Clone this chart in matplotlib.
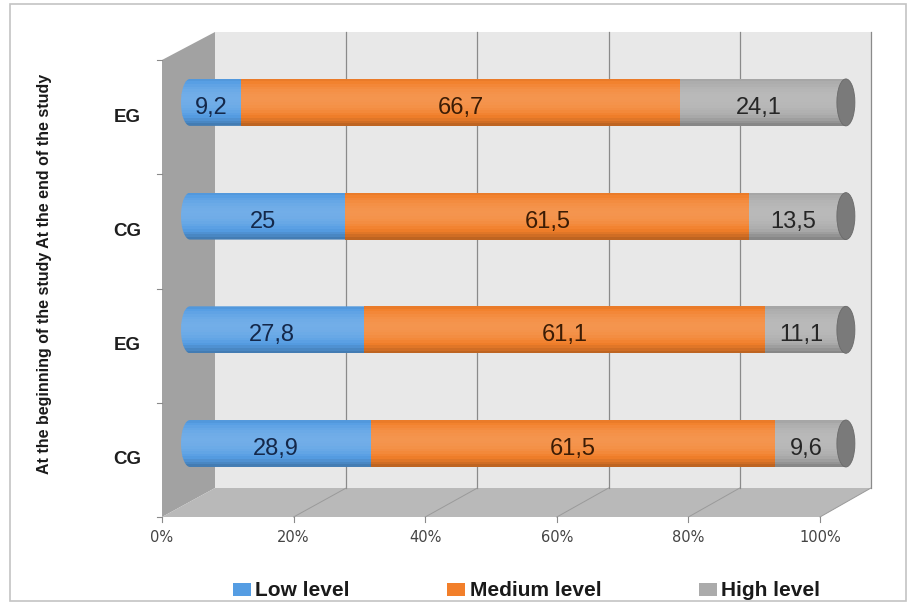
import matplotlib.pyplot as plt
import numpy as np
from matplotlib.patches import Polygon, Rectangle, Ellipse, Patch, PathPatch
from matplotlib.path import Path
from matplotlib.colors import to_rgb
from matplotlib import font_manager

# data (rows top to bottom)
groups = ['EG', 'CG', 'EG', 'CG']
low = [9.2, 25, 27.8, 28.9]
medium = [66.7, 61.5, 61.1, 61.5]
high = [24.1, 13.5, 11.1, 9.6]
series_names = ['Low level', 'Medium level', 'High level']
ticks = [0, 20, 40, 60, 80, 100]
tick_labels = ['0%', '20%', '40%', '60%', '80%', '100%']
ylabel = 'At the beginning of the study At the end of the study'

colors = ['#559de3', '#f27f2a', '#ababab']
text_cols = ['#14284a', '#3b1c05', '#262626']
cap_col = '#7a7a7a'

W, H = 915, 605
fig = plt.figure(figsize=(W / 100, H / 100), dpi=100)

# ---- fake 3d box, drawn in pixel coords ----
bg = fig.add_axes([0, 0, 1, 1])
bg.set_xlim(0, W)
bg.set_ylim(H, 0)
bg.axis('off')

back_l, back_r, back_top, back_bot = 215, 871, 32, 488
front_l, front_r, front_top, front_bot = 162, 820, 60, 517

bg.add_patch(Rectangle((10, 4), 896, 597, fill=False, ec='#c4c4c4', lw=1.2))
bg.add_patch(Rectangle((back_l, back_top), back_r - back_l, back_bot - back_top,
                       fc='#e8e8e8', ec='none'))
bg.add_patch(Polygon([(front_l, front_top), (back_l, back_top), (back_l, back_bot),
                      (front_l, front_bot)], fc='#a2a2a2', ec='none'))
bg.add_patch(Polygon([(back_l, back_bot), (back_r, back_bot), (front_r, front_bot),
                      (front_l, front_bot)], fc='#b9b9b9', ec='none'))

for v, lab in zip(ticks, tick_labels):
    xb = back_l + (back_r - back_l) * v / 100
    xf = front_l + (front_r - front_l) * v / 100
    if v > 0:
        bg.plot([xb, xb], [back_top, back_bot], color='#8a8a8a', lw=0.9)
        bg.plot([xb, xf], [back_bot, front_bot], color='#9a9a9a', lw=0.7)
    bg.plot([xf, xf], [front_bot, front_bot + 5], color='#8a8a8a', lw=0.8)
    bg.text(xf, 537, lab, ha='center', va='center', fontsize=10.5, color='#444444',
            family='DejaVu Sans')

band = (front_bot - front_top) / len(groups)
for i in range(len(groups) + 1):
    yy = front_top + band * i
    bg.plot([157, front_l], [yy, yy], color='#8a8a8a', lw=0.8)
for i, g in enumerate(groups):
    bg.text(127, front_top + band * (i + 0.5), g, ha='center', va='center',
            fontsize=13.5, weight='bold', color='#1e1e1e', family='Liberation Sans')

# y label, condensed font if we have one
names = {f.name for f in font_manager.fontManager.ttflist}
if 'Liberation Sans Narrow' in names:
    fig.text(45 / W, 1 - 274 / H, ylabel, rotation=90, ha='center', va='center',
             family='Liberation Sans Narrow', weight='bold', fontsize=14, color='#1a1a1a')
else:
    fig.text(45 / W, 1 - 274 / H, ylabel, rotation=90, ha='center', va='center',
             family='Liberation Sans', weight='bold', fontsize=11.5, color='#1a1a1a')

# ---- bars ----
ax = fig.add_axes([181 / W, (H - 500.35) / H, 657 / W, 454.8 / H])
ax.set_xlim(0, 100)
ax.set_ylim(3.5, -0.5)
ax.axis('off')
ax.patch.set_alpha(0)

y = np.arange(len(groups))
bh = 0.413
cap_w = 2.74
cap_off = 1.2
n = 18


def shade(c, s):
    c = np.array(to_rgb(c))
    return tuple(c + (1 - c) * s) if s > 0 else tuple(c * (1 + s))


def round_left(yi):
    # half ellipse on the left, straight body to the right
    th = np.linspace(np.pi / 2, 3 * np.pi / 2, 40)
    xs = cap_w / 2 + cap_w / 2 * np.cos(th)
    ys = yi + bh / 2 * np.sin(th)
    pts = list(zip(xs, ys)) + [(150, yi - bh / 2), (150, yi + bh / 2), (xs[0], ys[0])]
    return PathPatch(Path(pts), transform=ax.transData, fc='none', ec='none')


series = [np.array(low), np.array(medium), np.array(high)]
lefts = [np.zeros(4), np.array(low), np.array(low) + np.array(medium)]
clips = [round_left(yi) for yi in y]

for j, (vals, left) in enumerate(zip(series, lefts)):
    widths = vals + (cap_off if j == 2 else 0)
    for k in range(n):
        yoff = -bh / 2 + (k + 0.5) * bh / n
        t = -yoff / (bh / 2)
        s = 0.17 - 0.32 * (t - 0.15) ** 2
        bars = ax.barh(y + yoff, widths, left=left, height=bh / n * 1.08,
                       color=shade(colors[j], s), linewidth=0, zorder=2,
                       clip_on=(j == 0))
        if j == 0:
            for r, cp in zip(bars.patches, clips):
                r.set_clip_path(cp)
    for yi, v, l in zip(y, vals, left):
        ax.text(l + v / 2, yi + 0.05, f'{v:g}'.replace('.', ','), ha='center',
                va='center', fontsize=17, color=text_cols[j], family='Liberation Sans',
                zorder=4)

for yi, l, v in zip(y, lefts[2], series[2]):
    ax.add_patch(Ellipse((l + v + cap_off, yi), cap_w, bh, fc=cap_col, ec='#6a6a6a',
                         lw=0.6, zorder=3, clip_on=False))

handles = [Patch(facecolor=c) for c in colors]
leg = fig.legend(handles, series_names, loc='center', bbox_to_anchor=(526.5 / W, 1 - 591 / H),
                 ncol=3, frameon=False, handlelength=0.87, handleheight=0.6,
                 handletextpad=0.2, columnspacing=4.7,
                 prop={'family': 'Liberation Sans', 'weight': 'bold', 'size': 15})
for t in leg.get_texts():
    t.set_color('#1a1a1a')

fig.savefig('out.png', dpi=100)
